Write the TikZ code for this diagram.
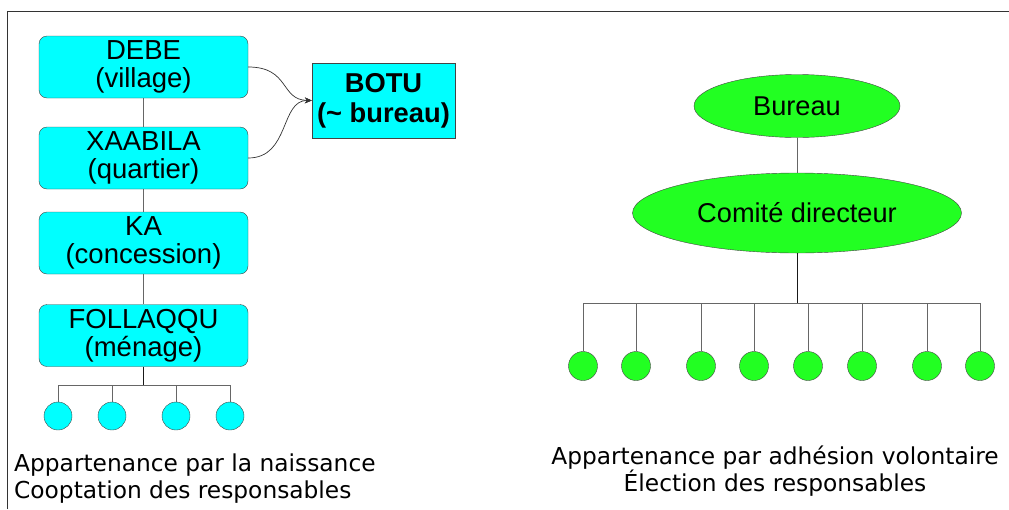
\documentclass[tikz,border=0pt]{standalone}
\usepackage{fontspec}
\setmainfont{Liberation Sans}
\newfontfamily\djv{DejaVu Sans}
\usetikzlibrary{shapes.geometric,arrows.meta}
\definecolor{boxcyan}{HTML}{00FFFF}
\definecolor{ellgreen}{HTML}{22FF22}
\definecolor{edgegray}{HTML}{444444}
\definecolor{linegray}{HTML}{666666}
\tikzset{
  x=1pt,y=-1pt,
  levelbox/.style={draw=edgegray,fill=boxcyan,rounded corners=8pt,minimum width=209pt,minimum height=62pt,inner sep=0pt,align=center,font=\fontsize{27.5}{28.5}\selectfont},
  botubox/.style={draw=edgegray,fill=boxcyan,minimum width=143pt,minimum height=75pt,inner sep=0pt,align=center,font=\fontsize{27.3}{30}\selectfont\bfseries},
  cyandot/.style={circle,draw=edgegray,fill=boxcyan,minimum size=28pt,inner sep=0pt},
  greendot/.style={circle,draw=edgegray,fill=ellgreen,minimum size=29pt,inner sep=0pt},
  greenell/.style={ellipse,draw=edgegray,fill=ellgreen,inner sep=0pt,font=\fontsize{27.2}{29}\selectfont},
  link/.style={draw=linegray,line width=0.8pt},
  caption/.style={font=\djv\fontsize{23.3}{26.5}\selectfont,inner sep=0pt},
}
\begin{document}
\begin{tikzpicture}
\useasboundingbox (0,0) rectangle (1009,509);
% frame
\draw[black!80,line width=1pt] (7,509) -- (7,11) -- (1009,11);
% left hierarchy
\node[levelbox] (debe) at (143.5,67) {DEBE\\(village)};
\node[levelbox] (xaa) at (143.5,158) {XAABILA\\(quartier)};
\node[levelbox] (ka) at (143.5,243) {KA\\(concession)};
\node[levelbox] (fol) at (143.5,335.5) {FOLLAQQU\\(ménage)};
\node[botubox] (botu) at (383.5,100.5) {BOTU\\(\char`\~{} bureau)};
\draw[link] (debe) -- (xaa);
\draw[link] (xaa) -- (ka);
\draw[link] (ka) -- (fol);
\draw[black!80,line width=0.7pt,-{Stealth[length=7pt,width=6pt]}] (debe.east) .. controls (290,67) and (280,100) .. (botu.west);
\draw[black!80,line width=0.7pt,-{Stealth[length=7pt,width=6pt]}] (xaa.east) .. controls (290,158) and (280,100) .. (botu.west);
\coordinate (busl) at (143.5,385);
\node[cyandot] (l1) at (58,416) {};
\node[cyandot] (l2) at (112,416) {};
\node[cyandot] (l3) at (176,416) {};
\node[cyandot] (l4) at (230,416) {};
\draw[link,black!90] (fol.south) -- (busl);
\foreach \n in {l1,l2,l3,l4} \draw[link] (\n.north) |- (busl);
% right hierarchy
\node[greenell,minimum width=206pt,minimum height=63pt] (bur) at (797,106) {Bureau};
\node[greenell,minimum width=329pt,minimum height=80pt] (com) at (797,213) {Comité directeur};
\draw[link] (bur) -- (com);
\coordinate (busr) at (797,303);
\draw[link,black!90] (com.south) -- (busr);
\foreach \i/\xx in {1/583,2/636,3/701,4/754,5/808,6/862,7/927,8/980} {
  \node[greendot] (r\i) at (\xx,366) {};
  \draw[link] (r\i.north) |- (busr);
}
% captions
\node[caption,anchor=base west,align=left] (capl) at (14,498) {Appartenance par la naissance\\Cooptation des responsables};
\node[caption,anchor=base,align=center] (capr) at (775,491) {Appartenance par adhésion volontaire\\Élection des responsables};
\end{tikzpicture}
\end{document}
